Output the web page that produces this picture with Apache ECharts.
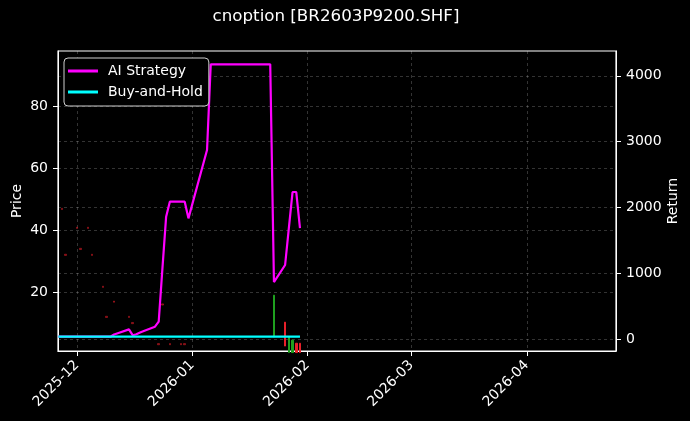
<!DOCTYPE html>
<html><head><meta charset="utf-8">
<script src="https://cdn.jsdelivr.net/npm/echarts@6/dist/echarts.min.js"></script>
<style>html,body{margin:0;padding:0;background:#000;}#c{width:690px;height:421px;}</style>
</head><body><div id="c"></div>
<script>
// ---- data ----
const lineDates = ['2025-11-26','2025-11-27','2025-11-28','2025-12-01','2025-12-02','2025-12-03','2025-12-04','2025-12-05',
  '2025-12-08','2025-12-09','2025-12-10','2025-12-11','2025-12-12','2025-12-15','2025-12-16','2025-12-17','2025-12-18','2025-12-19',
  '2025-12-22','2025-12-23','2025-12-24','2025-12-25','2025-12-26','2025-12-29','2025-12-30','2025-12-31',
  '2026-01-05','2026-01-06','2026-01-07','2026-01-08','2026-01-09','2026-01-12','2026-01-13','2026-01-14','2026-01-15','2026-01-16',
  '2026-01-19','2026-01-20','2026-01-21','2026-01-22','2026-01-23','2026-01-26','2026-01-27','2026-01-28','2026-01-29','2026-01-30'];
const aiStrategy = [35,35,35,35,35,35,35,35,
  35,35,35,68,88,147,58,72,100,122,
  187,263,1070,1859,2087,2087,2087,1834,
  2872,4175,4175,4175,4175,4175,4175,4175,4175,4175,
  4175,4175,4175,4175,866,1125,1680,2234,2234,1687];
const buyAndHold = [35,35,35,35,35,35,35,35,
  35,35,35,35,35,35,35,35,35,35,
  35,35,35,35,35,35,35,35,
  35,35,35,35,35,35,35,35,35,35,
  35,35,35,35,35,35,35,35,35,35];

const candleDates = ['2025-11-27','2025-11-28','2025-12-01','2025-12-02','2025-12-04','2025-12-05','2025-12-08','2025-12-09',
  '2025-12-11','2025-12-15','2025-12-16','2025-12-23','2025-12-24','2025-12-26','2025-12-29','2025-12-30',
  '2026-01-23','2026-01-26','2026-01-27','2026-01-28','2026-01-29','2026-01-30'];
const candleOpen  = [46.6,31.8,40.5,33.7,40.5,31.8,21.5,11.8,16.7,11.8,9.8,3.0,15.8,3.0,3.0,3.0, 19.0,2.6,5.5,4.5,0.5,0.5];
const candleClose = [47.0,32.2,40.9,34.1,40.9,32.2,21.9,12.2,17.1,12.2,10.2,3.4,16.2,3.4,3.4,3.4, 5.5,10.3,0.5,0.5,3.5,3.5];
const candleLow   = [46.6,31.8,40.5,33.7,40.5,31.8,21.5,11.8,16.7,11.8,9.8,3.0,15.8,3.0,3.0,3.0, 5.5,2.6,0.5,0.5,0.5,0.5];
const candleHigh  = [47.0,32.2,40.9,34.1,40.9,32.2,21.9,12.2,17.1,12.2,10.2,3.4,16.2,3.4,3.4,3.4, 19.0,10.3,5.5,4.5,3.5,3.5];

const priceTicks = [20,40,60,80];
const returnTicks = [0,1000,2000,3000,4000];
const monthTicks = ['2025-12-01','2026-01-01','2026-02-01','2026-03-01','2026-04-01'];
const titleText = 'cnoption [BR2603P9200.SHF]';

// ---- build ----
const t = s => { const p = s.split('-'); return new Date(+p[0], +p[1]-1, +p[2]).getTime(); };
const xMin = t('2025-11-26') - 2*3600000;
const xMax = t('2026-04-25');
const font = 'DejaVu Sans';
const gridLine = {show:true, lineStyle:{color:'rgba(255,255,255,0.25)', type:[3,3], width:0.8}};

const candleData = candleDates.map((d,i) => ({
  value: [t(d), candleOpen[i], candleClose[i], candleLow[i], candleHigh[i]],
  itemStyle: t(d) < t('2026-01-20') ? {opacity:0.45} : {}
}));

const option = {
  backgroundColor: '#000',
  animation: false,
  textStyle: {fontFamily: font},
  title: {text: titleText, left: 331, top: 3, textAlign:'center',
    textStyle:{color:'#fff', fontSize:16.7, fontWeight:'normal', fontFamily:font}},
  legend: {left: 64, top: 58, orient:'vertical', backgroundColor:'#000', borderColor:'#cfcfcf', borderWidth:1, borderRadius:4,
    padding:[5,6,6,4], itemGap:5, itemWidth:30, itemHeight:3, icon:'rect',
    textStyle:{color:'#fff', fontSize:14, fontFamily:font, padding:[0,0,0,5], lineHeight:16},
    data:['AI Strategy','Buy-and-Hold']},
  grid: {left:58, right:74, top:51, bottom:70, show:true, borderColor:'#fff', borderWidth:1.2, backgroundColor:'transparent',
    containLabel:false, outerBoundsMode:'none'},
  xAxis: {type:'value', min:xMin, max:xMax, scale:true,
    axisLine:{show:true, onZero:false, lineStyle:{color:'#fff'}},
    axisTick:{show:true, length:5, lineStyle:{color:'#fff'}, customValues: monthTicks.map(t)},
    axisLabel:{color:'#fff', fontSize:14, rotate:45, margin:12, fontFamily:font, customValues: monthTicks.map(t),
      formatter: v => { const d = new Date(v); return d.getFullYear() + '-' + String(d.getMonth()+1).padStart(2,'0'); }},
    splitLine: gridLine},
  yAxis: [
    {type:'value', min:1, max:97.7, position:'left', name:'Price', nameLocation:'middle', nameGap:34, nameRotate:90,
      nameMoveOverlap:false,
      nameTextStyle:{color:'#fff', fontSize:14, fontFamily:font},
      axisLine:{show:true, onZero:false, lineStyle:{color:'#fff'}},
      axisTick:{show:true, length:5, lineStyle:{color:'#fff'}, customValues: priceTicks},
      axisLabel:{color:'#fff', fontSize:14, fontFamily:font, margin:10, customValues: priceTicks, formatter: v => String(v)},
      splitLine: gridLine},
    {type:'value', min:-182, max:4377, position:'right', name:'Return', nameLocation:'middle', nameGap:50, nameRotate:90,
      nameMoveOverlap:false,
      nameTextStyle:{color:'#fff', fontSize:14, fontFamily:font},
      axisLine:{show:true, onZero:false, lineStyle:{color:'#fff'}},
      axisTick:{show:true, length:5, lineStyle:{color:'#fff'}, customValues: returnTicks},
      axisLabel:{color:'#fff', fontSize:14, fontFamily:font, margin:10, customValues: returnTicks, formatter: v => String(v)},
      splitLine: gridLine}
  ],
  series: [
    {type:'candlestick', name:'OHLC', yAxisIndex:0, barWidth:2, clip:true,
      itemStyle:{color:'#e8202a', color0:'#1fa01f', borderColor:'#e8202a', borderColor0:'#1fa01f', borderWidth:1},
      data: candleData},
    {type:'line', name:'AI Strategy', yAxisIndex:1, showSymbol:false, symbol:'none',
      lineStyle:{color:'#ff00ff', width:2.2}, itemStyle:{color:'#ff00ff'},
      data: lineDates.map((d,i) => [t(d), aiStrategy[i]])},
    {type:'line', name:'Buy-and-Hold', yAxisIndex:1, showSymbol:false, symbol:'none',
      lineStyle:{color:'#00ffff', width:2.2}, itemStyle:{color:'#00ffff'},
      data: lineDates.map((d,i) => [t(d), buyAndHold[i]])}
  ]
};
const chart = echarts.init(document.getElementById('c'), null, {renderer:'canvas'});
chart.setOption(option);
</script></body></html>
